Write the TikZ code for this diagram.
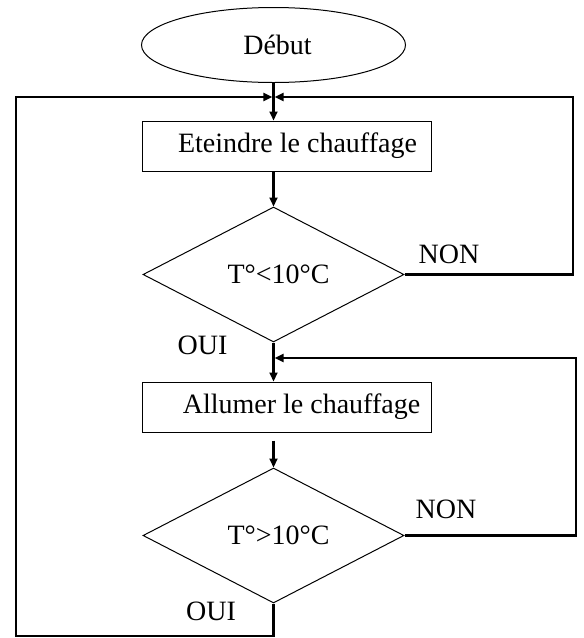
\documentclass[tikz,border=0pt]{standalone}
\usepackage{fontspec}
\setmainfont{Liberation Serif}
\usetikzlibrary{shapes.geometric,arrows.meta}
\tikzset{
  startend/.style={draw, ellipse, line width=1pt, minimum width=264pt, minimum height=75pt, inner sep=0pt},
  procbox/.style={draw, rectangle, line width=1pt, minimum width=289pt, minimum height=50pt, inner sep=0pt},
  decision/.style={draw, diamond, line width=1pt, minimum width=261pt, minimum height=135pt, inner sep=0pt},
  flow/.style={line width=2.2pt, ->, >={Triangle[length=9pt,width=8pt]}},
  lbl/.style={inner sep=0pt},
}
\begin{document}
\begin{tikzpicture}[x=1pt, y=-1pt, font=\fontsize{28}{33}\selectfont]
    \useasboundingbox (0,0) rectangle (584,638);

    % blocs
    \node[startend] (debut) at (273.5,45) {\hspace*{8pt}Début};
    \node[procbox] (eteindre) at (286.5,146) {\hspace*{22pt}Eteindre le chauffage};
    \node[decision] (test1) at (273.5,274.5) {\hspace*{10pt}T°<10°C};
    \node[procbox] (allumer) at (286.5,407) {\hspace*{30pt}Allumer le chauffage};
    \node[decision] (test2) at (273.5,535.5) {\hspace*{10pt}T°>10°C};

    % labels
    \node[lbl] (non1) at (449,254) {NON};
    \node[lbl] (oui1) at (202.5,345) {OUI};
    \node[lbl] (non2) at (446,509) {NON};
    \node[lbl] (oui2) at (211,611.5) {OUI};

    % points de jonction
    \coordinate (j1) at (273.5,97);
    \coordinate (j2) at (273.5,358);
    \coordinate (r1) at (573,97);
    \coordinate (r2) at (576,358);
    \coordinate (bl) at (15.7,636);

    % fleches
    \draw[flow] (debut.south) -- (debut.south |- eteindre.north);
    \draw[flow] (test1.north |- eteindre.south) -- (test1.north);
    \draw[flow] (test1.south) -- (test1.south |- allumer.north);
    \draw[flow, shorten <=8pt] (test2.north |- allumer.south) -- (test2.north);

    % boucles
    \draw[flow, shorten >=1.1pt] (test1.east) -| (r1) -- (j1);
    \draw[flow, shorten >=1.1pt] (test2.east) -| (r2) -- (j2);
    \draw[flow, shorten >=1.1pt] (test2.south) |- (bl) |- (j1);
\end{tikzpicture}
\end{document}
